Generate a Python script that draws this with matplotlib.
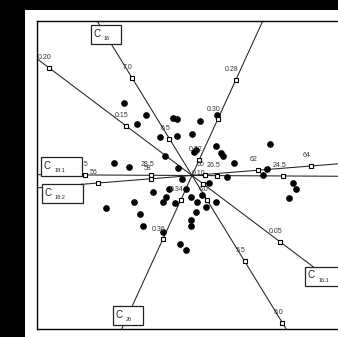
import matplotlib
matplotlib.use("Agg")
import matplotlib.pyplot as plt
from matplotlib.patches import Rectangle

plt.rcParams['font.family'] = ['Liberation Sans Narrow', 'Liberation Sans', 'DejaVu Sans']

# sample scores on the first two biplot dimensions
score_x = [-0.68, -0.46, -0.55, -0.32, -0.27, -0.78, -0.63, -0.19, -0.15, 0.08,
           -0.155, 0.00, 0.02, 0.04, 0.24, 0.29, 0.31, 0.42, 0.78, -0.145,
           0.25, -0.86, -0.58, -0.52, -0.49, -0.39, -0.29, -0.26, -0.235, -0.29,
           -0.10, -0.065, -0.17, -0.01, 0.05, 0.095, 0.165, 0.35, 0.24, 0.135,
           0.04, -0.015, -0.01, -0.125, -0.06, 1.01, 1.04, 0.97, 0.705, 0.745]
score_y = [0.73, 0.61, 0.52, 0.39, 0.20, 0.13, 0.09, 0.58, 0.57, 0.545,
           0.40, 0.415, 0.24, 0.255, 0.295, 0.225, 0.195, 0.125, 0.315, 0.075,
           0.61, -0.32, -0.265, -0.385, -0.50, -0.165, -0.26, -0.215, -0.13, -0.56,
           -0.03, -0.13, -0.27, -0.21, -0.26, -0.195, -0.07, -0.015, -0.26, -0.315,
           -0.365, -0.44, -0.505, -0.68, -0.745, -0.07, -0.13, -0.22, 0.005, 0.065]

# calibrated axes for the fatty acids
fatty_acids = ["16", "16:1", "18:1", "18:2", "20"]
origin_value = [6.2, 0.107, 27.26, 59.53, 0.328]
step_x = [-0.752, -15.4, -0.33, 0.266, -9.16]
step_y = [1.225, 11.6, 0.0017, 0.02125, -20.0]
tick_values = [[5.0, 5.5, 6.0, 6.5, 7.0],
               [0.05, 0.10, 0.15, 0.20],
               [24.5, 26.5, 28.5, 30.5],
               [56, 58, 60, 62, 64],
               [0.28, 0.30, 0.32, 0.34, 0.36]]
tick_format = ["{:.1f}", "{:.2f}", "{:.1f}", "{:.0f}", "{:.2f}"]
name_value = [7.35, 0.020, 31.2, 54.66, 0.398]
name_shift = [0.0, 0.0, 0.08, -0.08, 0.0]

fig = plt.figure(figsize=(3.38, 3.37), dpi=100)
fig.patch.set_facecolor("black")
fig.patches.append(Rectangle((25 / 338, 0), 1, 327 / 337, transform=fig.transFigure,
                             facecolor="white", edgecolor="none", zorder=-10))

ax = fig.add_axes([37 / 338, 8 / 337, 313 / 338, 308 / 337])
ax.set_xlim(-1.55, 1.58)
ax.set_ylim(-1.535, 1.545)
ax.set_xticks([])
ax.set_yticks([])
ax.spines["right"].set_visible(False)
for s in ["left", "top", "bottom"]:
    ax.spines[s].set_linewidth(1.0)

for i, fa in enumerate(fatty_acids):
    m = origin_value[i]
    dx, dy = step_x[i], step_y[i]
    ax.axline((0, 0), (dx, dy), color="#222222", lw=0.75, zorder=1)

    tx = [(v - m) * dx for v in tick_values[i]]
    ty = [(v - m) * dy for v in tick_values[i]]
    ax.plot(tx, ty, ls="none", marker="s", ms=3, mfc="white", mec="black",
            mew=0.8, zorder=3)
    for v, x, y in zip(tick_values[i], tx, ty):
        ax.annotate(tick_format[i].format(v), (x, y), xytext=(-2.9, 7.5),
                    textcoords="offset points", ha="center", va="center",
                    fontsize=5, color="#333333", zorder=4)

    # name box at the end of the axis
    cx = (name_value[i] - m) * dx
    cy = (name_value[i] - m) * dy + name_shift[i]
    w = 0.30 if len(fa) == 2 else 0.41
    h = 0.19
    ax.add_patch(Rectangle((cx - w / 2, cy - h / 2), w, h, facecolor="white",
                           edgecolor="#222222", lw=0.9, zorder=5))
    ax.text(cx - w / 2 + 0.06, cy + 0.01, "C", ha="center", va="center",
            fontsize=7, color="#222222", zorder=6)
    ax.text(cx - w / 2 + 0.13, cy - 0.04, fa, ha="left", va="center",
            fontsize=4, color="#222222", zorder=6)

ax.plot(score_x, score_y, ls="none", marker="o", ms=3.8, color="black", zorder=2)

fig.savefig("out.png", dpi=100, facecolor=fig.get_facecolor())
